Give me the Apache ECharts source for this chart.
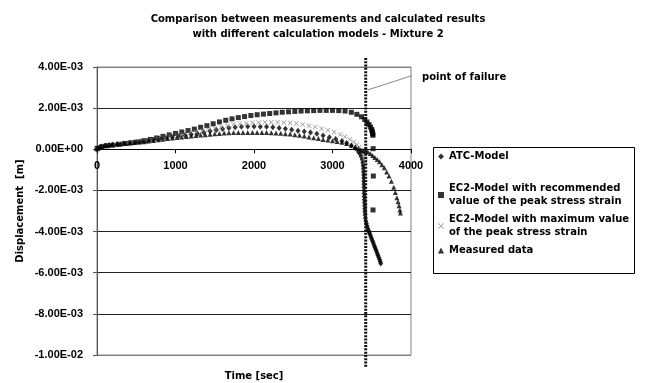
<!DOCTYPE html>
<html>
<head>
<meta charset="utf-8">
<script src="https://cdn.jsdelivr.net/npm/echarts@6/dist/echarts.min.js"></script>
<style>
  html, body { margin: 0; padding: 0; background: #fff; }
  #chart { width: 646px; height: 383px; }
</style>
</head>
<body>
<div id="chart"></div>
<script>
// values (time in s, displacement in m)
var atcTime = [0, 30, 60, 100, 150, 200, 260, 330, 400, 480, 560, 640, 720, 800, 880, 960, 1040, 1120, 1200, 1280,
  1360, 1440, 1520, 1600, 1680, 1760, 1840, 1920, 2000, 2080, 2160, 2240, 2320, 2400, 2480, 2560, 2640, 2720, 2800,
  2880, 2960, 3040, 3120, 3180, 3240, 3290, 3330, 3350, 3365, 3378, 3386, 3390, 3393, 3395, 3397, 3398, 3399, 3400,
  3401, 3402, 3403, 3404, 3405, 3407, 3409, 3410, 3412, 3415, 3419, 3425, 3432, 3440, 3450, 3460, 3470, 3480, 3490,
  3500, 3510, 3520, 3530, 3540, 3550, 3560, 3570, 3580, 3590, 3600, 3608, 3615]
var atcDisp = [0.00000, 0.00008, 0.00013, 0.00017, 0.00020, 0.00022, 0.00025, 0.00028, 0.00031, 0.00034, 0.00038,
  0.00042, 0.00046, 0.00051, 0.00055, 0.00060, 0.00064, 0.00068, 0.00072, 0.00076, 0.00082, 0.00088, 0.00094,
  0.00099, 0.00103, 0.00107, 0.00110, 0.00111, 0.00111, 0.00110, 0.00109, 0.00107, 0.00104, 0.00100, 0.00095,
  0.00090, 0.00086, 0.00081, 0.00075, 0.00067, 0.00058, 0.00050, 0.00040, 0.00030, 0.00018, 0.00005, -0.00012,
  -0.00022, -0.00035, -0.00050, -0.00065, -0.00080, -0.00095, -0.00110, -0.00125, -0.00140, -0.00155, -0.00170,
  -0.00185, -0.00200, -0.00215, -0.00230, -0.00245, -0.00260, -0.00275, -0.00290, -0.00305, -0.00320, -0.00335,
  -0.00350, -0.00362, -0.00373, -0.00385, -0.00396, -0.00406, -0.00416, -0.00426, -0.00436, -0.00446, -0.00456,
  -0.00466, -0.00476, -0.00486, -0.00496, -0.00506, -0.00516, -0.00526, -0.00536, -0.00546, -0.00555]

var ec2RecTime = [0, 60, 130, 200, 280, 360, 440, 520, 600, 680, 760, 840, 920, 1000, 1080, 1160, 1240, 1320, 1400,
  1480, 1560, 1640, 1720, 1800, 1880, 1960, 2040, 2120, 2200, 2280, 2360, 2440, 2520, 2600, 2680, 2760, 2840, 2920,
  3000, 3080, 3160, 3240, 3310, 3370, 3410, 3440, 3465, 3485, 3500, 3505, 3510, 3513, 3515, 3518, 3520, 3516]
var ec2RecDisp = [0.00005, 0.00012, 0.00017, 0.00020, 0.00024, 0.00028, 0.00032, 0.00036, 0.00042, 0.00048,
  0.00055, 0.00063, 0.00070, 0.00077, 0.00084, 0.00091, 0.00098, 0.00107, 0.00115, 0.00124, 0.00133, 0.00141,
  0.00148, 0.00154, 0.00159, 0.00164, 0.00168, 0.00171, 0.00174, 0.00177, 0.00180, 0.00182, 0.00184, 0.00186,
  0.00187, 0.00188, 0.00189, 0.00189, 0.00189, 0.00188, 0.00186, 0.00180, 0.00170, 0.00158, 0.00145, 0.00133,
  0.00120, 0.00108, 0.00096, 0.00088, 0.00080, 0.00074, 0.00068, 0.00003, -0.00130, -0.00295]

var ec2MaxTime = [0, 40, 90, 150, 220, 300, 380, 460, 540, 620, 700, 780, 860, 940, 1020, 1100, 1180, 1260, 1340,
  1420, 1500, 1580, 1660, 1740, 1820, 1900, 1980, 2060, 2140, 2220, 2300, 2380, 2460, 2540, 2620, 2700, 2780, 2860,
  2940, 3020, 3100, 3160, 3220, 3270, 3310, 3340, 3365, 3385, 3400, 3410, 3418]
var ec2MaxDisp = [0.00003, 0.00010, 0.00015, 0.00019, 0.00022, 0.00026, 0.00030, 0.00033, 0.00037, 0.00041,
  0.00045, 0.00050, 0.00055, 0.00060, 0.00066, 0.00072, 0.00078, 0.00084, 0.00090, 0.00096, 0.00102, 0.00108,
  0.00114, 0.00120, 0.00124, 0.00127, 0.00129, 0.00130, 0.00131, 0.00131, 0.00131, 0.00130, 0.00128, 0.00125,
  0.00120, 0.00114, 0.00108, 0.00100, 0.00092, 0.00083, 0.00072, 0.00061, 0.00048, 0.00035, 0.00022, 0.00010,
  -0.00002, -0.00015, -0.00030, -0.00045, -0.00060]

var measTime = [0, 20, 40, 60, 90, 120, 160, 200, 250, 300, 360, 420, 480, 540, 600, 660, 720, 780, 840, 900, 960,
  1020, 1080, 1140, 1200, 1260, 1320, 1380, 1440, 1500, 1560, 1620, 1680, 1740, 1800, 1860, 1920, 1980, 2040, 2100,
  2160, 2220, 2280, 2340, 2400, 2460, 2520, 2580, 2640, 2700, 2760, 2820, 2880, 2940, 3000, 3060, 3120, 3180, 3240,
  3290, 3330, 3360, 3390, 3420, 3450, 3480, 3510, 3540, 3570, 3600, 3630, 3660, 3690, 3720, 3750, 3780, 3800, 3820,
  3835, 3848, 3858, 3865]
var measDisp = [0.00002, 0.00008, 0.00012, 0.00015, 0.00018, 0.00020, 0.00022, 0.00024, 0.00026, 0.00027, 0.00029,
  0.00031, 0.00033, 0.00035, 0.00037, 0.00040, 0.00043, 0.00046, 0.00049, 0.00052, 0.00055, 0.00057, 0.00060,
  0.00062, 0.00065, 0.00067, 0.00069, 0.00071, 0.00073, 0.00075, 0.00077, 0.00079, 0.00080, 0.00081, 0.00082,
  0.00082, 0.00082, 0.00082, 0.00082, 0.00082, 0.00081, 0.00080, 0.00079, 0.00078, 0.00076, 0.00074, 0.00071,
  0.00068, 0.00064, 0.00060, 0.00056, 0.00052, 0.00048, 0.00045, 0.00042, 0.00038, 0.00034, 0.00028, 0.00020,
  0.00012, 0.00004, -0.00003, -0.00008, -0.00010, -0.00012, -0.00020, -0.00030, -0.00040, -0.00050, -0.00060,
  -0.00075, -0.00090, -0.00110, -0.00130, -0.00155, -0.00185, -0.00210, -0.00235, -0.00255, -0.00275, -0.00295,
  -0.00310]

var failureTime = 3423
var failureDisp = [0.00444, -0.0106]
var leaderTime = [3452, 4166]
var leaderDisp = [0.00289, 0.00377]

var seriesNames = [
  'ATC-Model',
  'EC2-Model with recommended\nvalue of the peak stress strain',
  'EC2-Model with maximum value\nof the peak stress strain',
  'Measured data'
]
var titleText = 'Comparison between measurements and calculated results\nwith different calculation models - Mixture 2'
var failureText = 'point of failure'

function pairs (xs, ys) {
  return xs.map(function (x, i) { return [x, ys[i]] })
}

// 4.00E-03 style labels
function sci (v) {
  if (Math.abs(v) < 1e-12) return '0.00E+00'
  var s = v.toExponential(2).toUpperCase()
  return s.replace(/E([+-])(\d+)$/, function (m, sign, d) {
    return 'E' + sign + (d.length < 2 ? '0' + d : d)
  })
}

var chart = echarts.init(document.getElementById('chart'), null, { renderer: 'canvas' })

var textFont = { fontFamily: 'DejaVu Sans', fontWeight: 'bold', fontSize: 10, color: '#000' }
var crossPath = 'path://M0,1 L1,0 L5,4 L9,0 L10,1 L6,5 L10,9 L9,10 L5,6 L1,10 L0,9 L4,5 Z'

// grid box, the x axis is moved up onto the zero line
var gridTop = 67
var gridHeight = 288
var yMin = -0.01
var yMax = 0.004
var zeroShift = -gridHeight * (0 - yMin) / (yMax - yMin)

var legendBase = {
  orient: 'vertical',
  left: 438,
  padding: 0,
  itemWidth: 6,
  itemHeight: 6,
  itemGap: 5,
  selectedMode: false,
  textStyle: Object.assign({ lineHeight: 13 }, textFont)
}

var option = {
  backgroundColor: '#fff',
  animation: false,
  title: {
    text: titleText,
    left: 313,
    top: 7,
    textAlign: 'center',
    textStyle: Object.assign({ lineHeight: 15 }, textFont)
  },
  legend: [
    Object.assign({}, legendBase, { top: 150, data: [seriesNames[0]] }),
    Object.assign({}, legendBase, { top: 182, data: [seriesNames[1], seriesNames[2]] }),
    Object.assign({}, legendBase, { top: 244, data: [seriesNames[3]] })
  ],
  graphic: [{
    type: 'rect',
    shape: { x: 433.5, y: 147.5, width: 201, height: 126 },
    style: { fill: 'none', stroke: '#000', lineWidth: 1 },
    silent: true
  }],
  grid: {
    left: 97,
    top: gridTop,
    width: 314,
    height: gridHeight,
    outerBoundsMode: 'none',
    containLabel: false,
    show: true,
    borderColor: '#808080',
    borderWidth: 1
  },
  xAxis: {
    type: 'value',
    position: 'bottom',
    offset: zeroShift,
    min: 0,
    max: 4000,
    interval: 1000,
    name: 'Time [sec]',
    nameLocation: 'middle',
    nameGap: 222,
    nameTextStyle: textFont,
    axisLine: { onZero: false, lineStyle: { color: '#000', width: 1 } },
    axisTick: { show: true, length: 4, lineStyle: { color: '#000' } },
    axisLabel: {
      margin: 11,
      fontFamily: 'Liberation Sans',
      fontWeight: 'bold',
      fontSize: 11,
      color: '#000',
      formatter: function (v) { return String(v) }
    },
    splitLine: { show: false }
  },
  yAxis: {
    type: 'value',
    min: yMin,
    max: yMax,
    interval: 0.002,
    name: 'Displacement  [m]',
    nameLocation: 'middle',
    nameGap: 72,
    nameTextStyle: textFont,
    axisLine: { show: true, onZero: false, lineStyle: { color: '#555', width: 1 } },
    axisTick: { show: true, length: 4, lineStyle: { color: '#555' } },
    axisLabel: {
      margin: 14,
      fontFamily: 'Liberation Sans',
      fontWeight: 'bold',
      fontSize: 11,
      color: '#000',
      formatter: sci
    },
    splitLine: {
      show: true,
      lineStyle: {
        color: ['#808080', '#222', '#222', '#222', '#222', '#222', '#222', '#808080'],
        width: 1
      }
    }
  },
  series: [
    {
      name: seriesNames[0],
      type: 'scatter',
      symbol: 'diamond',
      symbolSize: [5, 6],
      itemStyle: { color: '#000' },
      data: pairs(atcTime, atcDisp)
    },
    {
      name: seriesNames[1],
      type: 'scatter',
      symbol: 'rect',
      symbolSize: 5,
      itemStyle: { color: '#000' },
      data: pairs(ec2RecTime, ec2RecDisp)
    },
    {
      name: seriesNames[2],
      type: 'scatter',
      symbol: crossPath,
      symbolSize: 5,
      itemStyle: { color: '#808080' },
      data: pairs(ec2MaxTime, ec2MaxDisp)
    },
    {
      name: seriesNames[3],
      type: 'scatter',
      symbol: 'triangle',
      symbolSize: 5,
      itemStyle: { color: '#000' },
      data: pairs(measTime, measDisp)
    },
    {
      // point of failure, dotted vertical line
      name: 'failure',
      type: 'line',
      clip: false,
      silent: true,
      symbol: 'none',
      lineStyle: { color: '#111', width: 3, type: [2, 1.3] },
      data: failureDisp.map(function (d) { return [failureTime, d] })
    },
    {
      name: 'leader',
      type: 'line',
      clip: false,
      silent: true,
      symbol: 'none',
      lineStyle: { color: '#888', width: 1 },
      endLabel: {
        show: true,
        distance: 0,
        offset: [10, 2],
        formatter: failureText,
        fontFamily: 'DejaVu Sans',
        fontWeight: 'bold',
        fontSize: 10,
        color: '#000'
      },
      data: pairs(leaderTime, leaderDisp)
    }
  ]
}

chart.setOption(option)
</script>
</body>
</html>
